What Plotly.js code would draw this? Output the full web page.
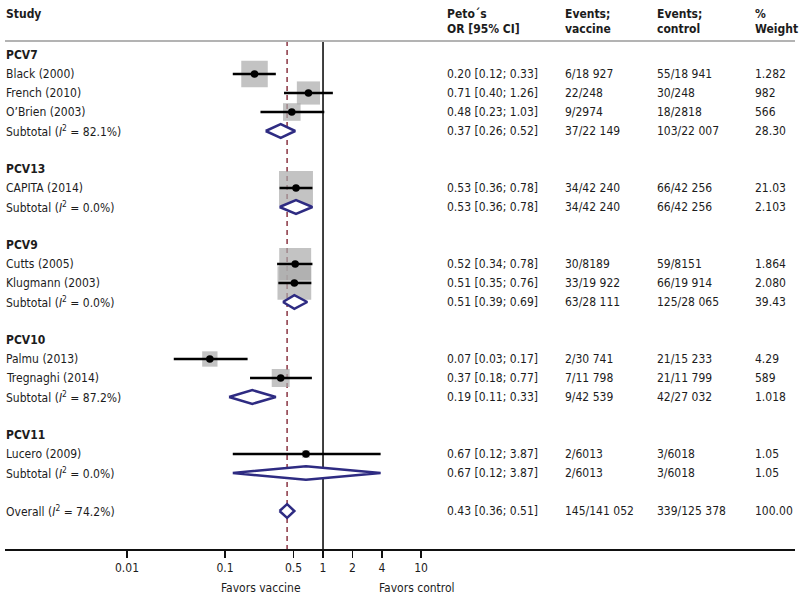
<!DOCTYPE html>
<html>
<head>
<meta charset="utf-8">
<script src="https://cdn.plot.ly/plotly-3.0.1.min.js"></script>
<style>html,body{margin:0;padding:0;background:#fff;}#chart{width:800px;height:603px;}</style>
</head>
<body>
<div id="chart"></div>
<script>
// ---------- DATA ----------
const groups = ["PCV7", "PCV13", "PCV9", "PCV10", "PCV11"];
const studyNames = ["Black (2000)", "French (2010)", "O\u2019Brien (2003)", "CAPITA (2014)", "Cutts (2005)", "Klugmann (2003)", "Palmu (2013)", "Tregnaghi (2014)", "Lucero (2009)"];
const studyGroup = [0, 0, 0, 1, 2, 2, 3, 3, 4];
const studyOR = [0.20, 0.71, 0.48, 0.53, 0.52, 0.51, 0.07, 0.37, 0.67];
const studyLo = [0.12, 0.40, 0.23, 0.36, 0.34, 0.35, 0.03, 0.18, 0.12];
const studyHi = [0.33, 1.26, 1.03, 0.78, 0.78, 0.76, 0.17, 0.77, 3.87];
const studyEvVaccine = ["6/18 927", "22/248", "9/2974", "34/42 240", "30/8189", "33/19 922", "2/30 741", "7/11 798", "2/6013"];
const studyEvControl = ["55/18 941", "30/248", "18/2818", "66/42 256", "59/8151", "66/19 914", "21/15 233", "21/11 799", "3/6018"];
const studyWeightText = ["1.282", "982", "566", "21.03", "1.864", "2.080", "4.29", "589", "1.05"];
const studyWeight = [12.82, 9.82, 5.66, 21.03, 18.64, 20.80, 4.29, 5.89, 1.05];

const subI2 = ["82.1", "0.0", "0.0", "87.2", "0.0"];
const subOR = [0.37, 0.53, 0.51, 0.19, 0.67];
const subLo = [0.26, 0.36, 0.39, 0.11, 0.12];
const subHi = [0.52, 0.78, 0.69, 0.33, 3.87];
const subEvVaccine = ["37/22 149", "34/42 240", "63/28 111", "9/42 539", "2/6013"];
const subEvControl = ["103/22 007", "66/42 256", "125/28 065", "42/27 032", "3/6018"];
const subWeightText = ["28.30", "2.103", "39.43", "1.018", "1.05"];

const overallI2 = "74.2";
const overallOR = 0.43, overallLo = 0.36, overallHi = 0.51;
const overallEvVaccine = "145/141 052";
const overallEvControl = "339/125 378";
const overallWeightText = "100.00";

const tickVals = [0.01, 0.1, 0.5, 1, 2, 4, 10];
const tickText = ["0.01", "0.1", "0.5", "1", "2", "4", "10"];

// ---------- LAYOUT HELPERS ----------
const FONT = "'DejaVu Sans Condensed', 'Liberation Sans', sans-serif";
const TXT = "#1c1c1c";
const FS = 12;
const px = p => (p - 5) / 790; // pixel -> paper x
const colX = {study: px(5), or: px(446), evv: px(564), evc: px(656), w: px(754)};

// rows
const groupRow = [], subRow = [], studyRow = [];
let r = 0;
groups.forEach((g, gi) => {
  groupRow[gi] = r++;
  studyGroup.forEach((sg, si) => { if (sg === gi) studyRow[si] = r++; });
  subRow[gi] = r++;
  r++;
});
const overallRow = r;
const headerLineRow = -0.74;
const axisBottomRow = 26;

const fmt = (o, l, h) => o.toFixed(2) + " [" + l.toFixed(2) + "; " + h.toFixed(2) + "]";

const annotations = [];
function addText(text, x, y, opts) {
  annotations.push(Object.assign({
    text: text, x: x, y: y, xref: "paper", yref: "y",
    xanchor: "left", yanchor: "middle", showarrow: false, borderpad: 0,
    font: {family: FONT, size: FS, color: TXT}
  }, opts || {}));
}

// headers
const h1 = -2.16, h2 = -1.37;
addText("<b>Study</b>", colX.study, h1);
addText("<b>Peto\u00B4s</b>", colX.or, h1);
addText("<b>OR [95% CI]</b>", colX.or, h2);
addText("<b>Events;</b>", colX.evv, h1);
addText("<b>vaccine</b>", colX.evv, h2);
addText("<b>Events;</b>", colX.evc, h1);
addText("<b>control</b>", colX.evc, h2);
addText("<b>%</b>", colX.w, h1);
addText("<b>Weight</b>", colX.w, h2);

groups.forEach((g, gi) => {
  addText("<b>" + g + "</b>", colX.study, groupRow[gi]);
  const sr = subRow[gi];
  addText("Subtotal (<i>I</i><sup>2</sup> = " + subI2[gi] + "%)", colX.study, sr);
  addText(fmt(subOR[gi], subLo[gi], subHi[gi]), colX.or, sr);
  addText(subEvVaccine[gi], colX.evv, sr);
  addText(subEvControl[gi], colX.evc, sr);
  addText(subWeightText[gi], colX.w, sr);
});
studyNames.forEach((n, i) => {
  const sr = studyRow[i];
  addText(n, colX.study, sr);
  addText(fmt(studyOR[i], studyLo[i], studyHi[i]), colX.or, sr);
  addText(studyEvVaccine[i], colX.evv, sr);
  addText(studyEvControl[i], colX.evc, sr);
  addText(studyWeightText[i], colX.w, sr);
});
addText("Overall (<i>I</i><sup>2</sup> = " + overallI2 + "%)", colX.study, overallRow);
addText(fmt(overallOR, overallLo, overallHi), colX.or, overallRow);
addText(overallEvVaccine, colX.evv, overallRow);
addText(overallEvControl, colX.evc, overallRow);
addText(overallWeightText, colX.w, overallRow);

// axis side labels
annotations.push({text: "Favors vaccine", xref: "paper", yref: "paper", x: px(261), y: -0.071,
  xanchor: "center", yanchor: "middle", showarrow: false, font: {family: FONT, size: FS, color: TXT}});
annotations.push({text: "Favors control", xref: "paper", yref: "paper", x: px(417), y: -0.071,
  xanchor: "center", yanchor: "middle", showarrow: false, font: {family: FONT, size: FS, color: TXT}});

// ---------- TRACES ----------
const traces = [];
// reference lines
traces.push({type: "scatter", mode: "lines", x: [overallOR, overallOR], y: [headerLineRow, axisBottomRow],
  line: {color: "#8a3442", width: 1.5, dash: "5px,4px"}, hoverinfo: "skip"});
traces.push({type: "scatter", mode: "lines", x: [1, 1], y: [headerLineRow, axisBottomRow],
  line: {color: "#000", width: 1.5}, hoverinfo: "skip"});

// weight squares
traces.push({type: "scatter", mode: "markers", x: studyOR, y: studyRow,
  marker: {symbol: "square", color: "#a9a9a9", size: studyWeight.map(w => 7.4 * Math.sqrt(w)), line: {width: 0}},
  hoverinfo: "skip"});

// CI lines
const ciX = [], ciY = [];
studyOR.forEach((o, i) => { ciX.push(studyLo[i], studyHi[i], null); ciY.push(studyRow[i], studyRow[i], null); });
traces.push({type: "scatter", mode: "lines", x: ciX, y: ciY, line: {color: "#000", width: 2.5}, hoverinfo: "skip"});

// point estimates
traces.push({type: "scatter", mode: "markers", x: studyOR, y: studyRow,
  marker: {symbol: "circle", color: "#000", size: 7.5}, hoverinfo: "skip"});

// diamonds
const dh = 0.36;
function diamond(o, l, h, row) {
  traces.push({type: "scatter", mode: "lines", x: [l, o, h, o, l], y: [row, row - dh, row, row + dh, row],
    fill: "toself", fillcolor: "#ffffff", line: {color: "#2e2b82", width: 2.5}, hoverinfo: "skip"});
}
groups.forEach((g, gi) => diamond(subOR[gi], subLo[gi], subHi[gi], subRow[gi]));
diamond(overallOR, overallLo, overallHi, overallRow);

const layout = {
  width: 800, height: 603,
  margin: {l: 5, r: 5, t: 0, b: 54},
  paper_bgcolor: "#fff", plot_bgcolor: "#fff",
  showlegend: false,
  xaxis: {
    type: "log", range: [-3.245, 4.816], showgrid: false, zeroline: false,
    showline: true, linecolor: "#111", linewidth: 1.5,
    ticks: "outside", ticklen: 7, tickwidth: 1.5, tickcolor: "#111",
    tickvals: tickVals, ticktext: tickText,
    tickfont: {family: FONT, size: FS, color: TXT}, fixedrange: true
  },
  yaxis: {range: [axisBottomRow, -2.895], visible: false, showgrid: false, zeroline: false, fixedrange: true},
  shapes: [{type: "line", xref: "paper", yref: "y", x0: 0, x1: 1, y0: headerLineRow, y1: headerLineRow,
    line: {color: "#b3b3b3", width: 2}}],
  annotations: annotations
};

Plotly.newPlot("chart", traces, layout, {displayModeBar: false, staticPlot: true});
</script>
</body>
</html>
